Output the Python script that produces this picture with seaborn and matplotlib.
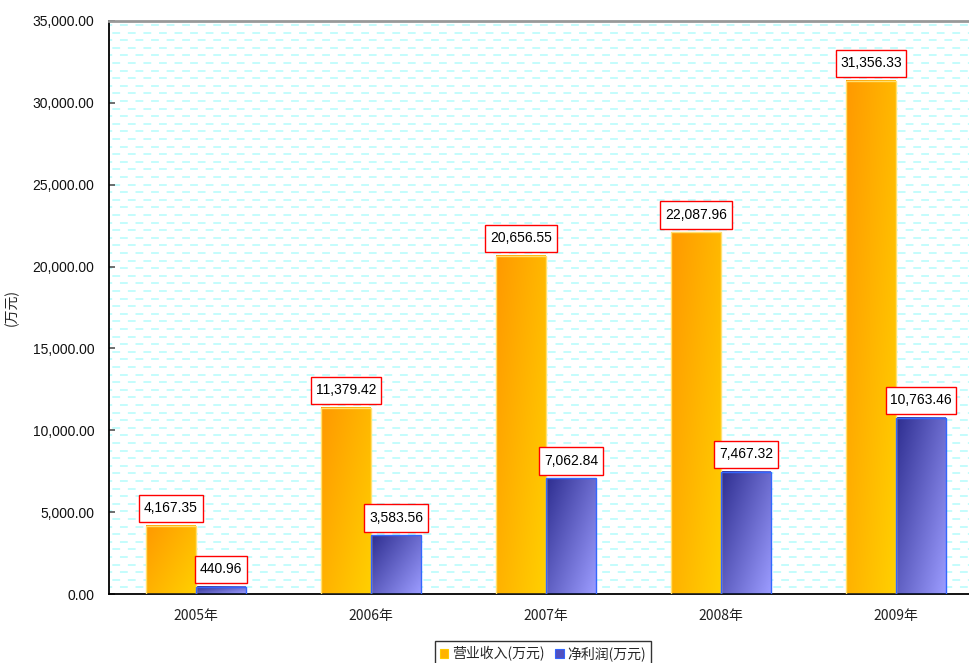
import numpy as np
import pandas as pd
import matplotlib
matplotlib.use("Agg")
import matplotlib.pyplot as plt
import seaborn as sns
from matplotlib.colors import LinearSegmentedColormap
from matplotlib.patches import Patch

years = ["2005年", "2006年", "2007年", "2008年", "2009年"]
series_names = ["营业收入(万元)", "净利润(万元)"]
revenue = [4167.35, 11379.42, 20656.55, 22087.96, 31356.33]
net_profit = [440.96, 3583.56, 7062.84, 7467.32, 10763.46]
y_ticks = [0, 5000, 10000, 15000, 20000, 25000, 30000, 35000]
y_label = "(万元)"

sns.set_theme(style="white")
plt.rcParams["font.family"] = ["Liberation Sans", "Noto Sans CJK SC", "DejaVu Sans"]
plt.rcParams["lines.scale_dashes"] = False
cjk = ["Noto Sans CJK SC", "DejaVu Sans"]

df = pd.DataFrame({
    "year": years * 2,
    "value": revenue + net_profit,
    "series": [series_names[0]] * len(years) + [series_names[1]] * len(years),
})

fig = plt.figure(figsize=(9.69, 6.63), dpi=100)
W, H = 969, 663
left_px, top_px, bottom_px = 108.5, 21, 594
cat_px = 175
ax_w_px = cat_px * len(years)
ax = fig.add_axes([left_px / W, 1 - bottom_px / H, ax_w_px / W, (bottom_px - top_px) / H])
ax.set_facecolor("white")

# background dashed pattern
ax_h = bottom_px - top_px
row_sp = 7.6
n_rows = int(ax_h / row_sp) + 1
for i in range(n_rows):
    yfrac = 1 - (4 + i * row_sp) / ax_h
    off = 3.3 if i % 2 == 0 else 8.8
    ax.plot([0, 1], [yfrac, yfrac], transform=ax.transAxes, color="#C4FCFC",
            lw=1.4, linestyle=(off, (5.6, 5.6)), zorder=0,
            dash_capstyle="butt")

palette = {series_names[0]: "#FFB300", series_names[1]: "#5050C0"}
sns.barplot(data=df, x="year", y="value", hue="series", palette=palette,
            width=0.571, legend=False, ax=ax, saturation=1, zorder=2)

cmaps = [LinearSegmentedColormap.from_list("o", ["#FF9900", "#FFD000"]),
         LinearSegmentedColormap.from_list("b", ["#2E2E90", "#9C9CFF"])]
edges = ["#FFE070", "#3366FF"]
nx, ny = 60, 300
u = np.linspace(0, 1, nx)[None, :]
v = np.linspace(0, 1, ny)[:, None]
grad = 0.55 * u + 0.45 * v

for ci, cont in enumerate(ax.containers):
    for bar in cont:
        x0 = bar.get_x(); w = bar.get_width(); h = bar.get_height()
        ax.imshow(grad, cmap=cmaps[ci], extent=[x0, x0 + w, 0, h], origin="upper",
                  aspect="auto", zorder=2, interpolation="bilinear")
        bar.set_facecolor("none")
        bar.set_edgecolor(edges[ci])
        bar.set_linewidth(1.0)
        bar.set_zorder(3)
        ax.annotate(f"{h:,.2f}", (x0 + w / 2, h), xytext=(0, 7.5), textcoords="offset points",
                    ha="center", va="bottom", fontsize=10, color="black", zorder=5,
                    bbox=dict(boxstyle="square,pad=0.33", fc="white", ec="#FF0000", lw=1.0,
                              mutation_aspect=1.45))

ax.set_xlim(-0.5, len(years) - 0.5)
ax.set_ylim(0, 35000)
ax.set_yticks(y_ticks)
ax.set_yticklabels([f"{t:,.2f}" for t in y_ticks], fontsize=10, color="#111111")
ax.set_xticks(range(len(years)))
ax.set_xticklabels(years, fontsize=10, color="#222222", family=cjk)
ax.set_xticks([i + 0.5 for i in range(len(years) - 1)], minor=True)
ax.tick_params(axis="x", which="major", length=0, pad=11)
ax.tick_params(axis="x", which="minor", direction="in", length=5, width=1, color="black")
ax.tick_params(axis="y", which="major", direction="in", length=4, width=1.2, color="#555555", pad=10, left=True)
ax.set_xlabel("")
ax.set_ylabel(y_label, fontsize=10, family=cjk, color="#222222")
ax.yaxis.set_label_coords(-90 / ax_w_px, 0.5)
ax.grid(False)

for s in ["left", "bottom"]:
    ax.spines[s].set_visible(True)
    ax.spines[s].set_color("black")
    ax.spines[s].set_linewidth(1.3)
ax.spines["top"].set_color("#999999")
ax.spines["top"].set_linewidth(2)
ax.spines["right"].set_visible(False)

handles = [Patch(facecolor="#FFB300", edgecolor="#FFCC00", lw=0.8),
           Patch(facecolor="#5050C0", edgecolor="#3366FF", lw=0.8)]
leg = fig.legend(handles, series_names, loc="upper center", bbox_to_anchor=(543 / W, 1 - 641 / H),
                 ncol=2, frameon=True, fancybox=False, edgecolor="black",
                 handlelength=0.6, handleheight=0.6, handletextpad=0.25, columnspacing=0.8,
                 borderpad=0.4, borderaxespad=0, prop={"family": cjk, "size": 10})
leg.get_frame().set_linewidth(1.0)

fig.savefig("out.png", dpi=100)
